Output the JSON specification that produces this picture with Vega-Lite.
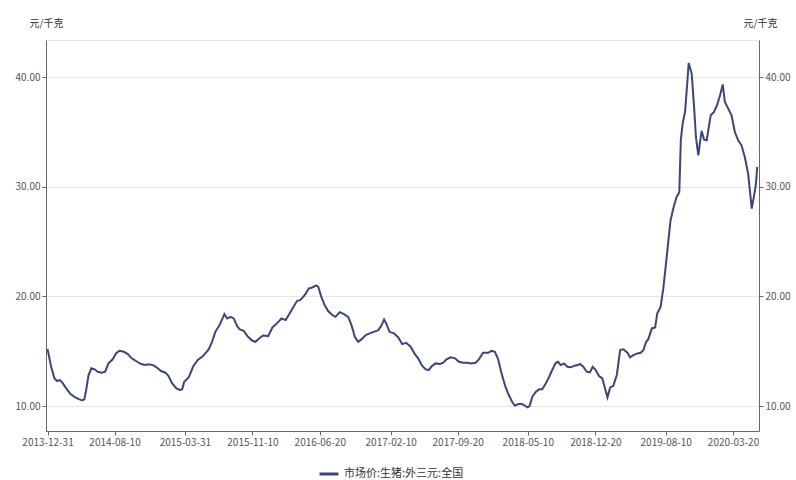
{
  "$schema": "https://vega.github.io/schema/vega-lite/v6.json",
  "width": 713,
  "height": 391,
  "autosize": {"type": "none"},
  "padding": {"left": 46, "top": 40, "right": 37, "bottom": 49},
  "background": "#ffffff",
  "config": {
    "font": "Noto Sans CJK SC",
    "view": {"stroke": "#e6e6e6", "strokeWidth": 1},
    "axis": {
      "labelFont": "Noto Sans CJK SC",
      "labelFontSize": 10,
      "labelColor": "#555555",
      "domainColor": "#666666",
      "tickColor": "#666666",
      "tickSize": 4,
      "labelPadding": 2,
      "gridColor": "#e6e6e6",
      "titleFont": "Noto Sans CJK SC",
      "titleFontSize": 10,
      "titleFontWeight": "normal",
      "titleColor": "#333333"
    },
    "legend": {
      "labelFont": "Noto Sans CJK SC",
      "labelFontSize": 11,
      "labelColor": "#333333"
    }
  },
  "data": {
    "values": [
      {"d": "2013-12-31", "v": 15.2},
      {"d": "2014-01-12", "v": 13.58},
      {"d": "2014-01-23", "v": 12.52},
      {"d": "2014-02-01", "v": 12.28},
      {"d": "2014-02-10", "v": 12.37},
      {"d": "2014-02-20", "v": 12.07},
      {"d": "2014-03-03", "v": 11.61},
      {"d": "2014-03-17", "v": 11.09},
      {"d": "2014-04-02", "v": 10.79},
      {"d": "2014-04-16", "v": 10.61},
      {"d": "2014-04-25", "v": 10.52},
      {"d": "2014-05-02", "v": 10.61},
      {"d": "2014-05-08", "v": 11.46},
      {"d": "2014-05-16", "v": 12.83},
      {"d": "2014-05-25", "v": 13.44},
      {"d": "2014-06-05", "v": 13.35},
      {"d": "2014-06-15", "v": 13.13},
      {"d": "2014-06-29", "v": 13.04},
      {"d": "2014-07-10", "v": 13.13},
      {"d": "2014-07-21", "v": 13.89},
      {"d": "2014-08-04", "v": 14.26},
      {"d": "2014-08-15", "v": 14.8},
      {"d": "2014-08-26", "v": 15.04},
      {"d": "2014-09-10", "v": 14.95},
      {"d": "2014-09-23", "v": 14.74},
      {"d": "2014-10-06", "v": 14.35},
      {"d": "2014-10-24", "v": 14.04},
      {"d": "2014-11-06", "v": 13.83},
      {"d": "2014-11-20", "v": 13.74},
      {"d": "2014-12-01", "v": 13.8},
      {"d": "2014-12-18", "v": 13.71},
      {"d": "2014-12-31", "v": 13.44},
      {"d": "2015-01-11", "v": 13.19},
      {"d": "2015-01-26", "v": 13.04},
      {"d": "2015-02-05", "v": 12.73},
      {"d": "2015-02-17", "v": 12.07},
      {"d": "2015-03-03", "v": 11.61},
      {"d": "2015-03-14", "v": 11.46},
      {"d": "2015-03-22", "v": 11.52},
      {"d": "2015-03-29", "v": 12.22},
      {"d": "2015-04-13", "v": 12.62},
      {"d": "2015-04-27", "v": 13.58},
      {"d": "2015-05-12", "v": 14.19},
      {"d": "2015-05-30", "v": 14.56},
      {"d": "2015-06-18", "v": 15.17},
      {"d": "2015-06-29", "v": 15.86},
      {"d": "2015-07-10", "v": 16.77},
      {"d": "2015-07-24", "v": 17.38},
      {"d": "2015-08-09", "v": 18.39},
      {"d": "2015-08-18", "v": 17.99},
      {"d": "2015-08-29", "v": 18.14},
      {"d": "2015-09-09", "v": 17.99},
      {"d": "2015-09-20", "v": 17.3},
      {"d": "2015-09-29", "v": 16.99},
      {"d": "2015-10-12", "v": 16.86},
      {"d": "2015-10-26", "v": 16.32},
      {"d": "2015-11-10", "v": 15.95},
      {"d": "2015-11-20", "v": 15.86},
      {"d": "2015-12-02", "v": 16.17},
      {"d": "2015-12-15", "v": 16.44},
      {"d": "2016-01-01", "v": 16.38},
      {"d": "2016-01-15", "v": 17.17},
      {"d": "2016-01-30", "v": 17.54},
      {"d": "2016-02-14", "v": 17.99},
      {"d": "2016-02-28", "v": 17.84},
      {"d": "2016-03-12", "v": 18.45},
      {"d": "2016-03-25", "v": 19.05},
      {"d": "2016-04-06", "v": 19.6},
      {"d": "2016-04-16", "v": 19.66},
      {"d": "2016-05-01", "v": 20.12},
      {"d": "2016-05-15", "v": 20.73},
      {"d": "2016-05-26", "v": 20.82},
      {"d": "2016-06-08", "v": 21.0},
      {"d": "2016-06-15", "v": 20.88},
      {"d": "2016-06-25", "v": 19.96},
      {"d": "2016-07-06", "v": 19.21},
      {"d": "2016-07-17", "v": 18.69},
      {"d": "2016-07-31", "v": 18.3},
      {"d": "2016-08-11", "v": 18.14},
      {"d": "2016-08-25", "v": 18.57},
      {"d": "2016-09-08", "v": 18.39},
      {"d": "2016-09-22", "v": 18.14},
      {"d": "2016-10-03", "v": 17.38},
      {"d": "2016-10-14", "v": 16.32},
      {"d": "2016-10-25", "v": 15.86},
      {"d": "2016-11-05", "v": 16.08},
      {"d": "2016-11-19", "v": 16.47},
      {"d": "2016-12-02", "v": 16.63},
      {"d": "2016-12-16", "v": 16.77},
      {"d": "2016-12-31", "v": 16.93},
      {"d": "2017-01-11", "v": 17.38},
      {"d": "2017-01-19", "v": 17.9},
      {"d": "2017-01-26", "v": 17.54},
      {"d": "2017-02-06", "v": 16.77},
      {"d": "2017-02-21", "v": 16.63},
      {"d": "2017-03-07", "v": 16.26},
      {"d": "2017-03-20", "v": 15.65},
      {"d": "2017-04-02", "v": 15.77},
      {"d": "2017-04-17", "v": 15.41},
      {"d": "2017-05-01", "v": 14.74},
      {"d": "2017-05-12", "v": 14.35},
      {"d": "2017-05-23", "v": 13.74},
      {"d": "2017-06-05", "v": 13.37},
      {"d": "2017-06-16", "v": 13.28},
      {"d": "2017-06-25", "v": 13.6},
      {"d": "2017-07-08", "v": 13.89},
      {"d": "2017-07-23", "v": 13.83},
      {"d": "2017-08-03", "v": 13.95},
      {"d": "2017-08-14", "v": 14.26},
      {"d": "2017-08-28", "v": 14.44},
      {"d": "2017-09-11", "v": 14.35},
      {"d": "2017-09-24", "v": 14.04},
      {"d": "2017-10-08", "v": 13.95},
      {"d": "2017-10-22", "v": 13.95},
      {"d": "2017-11-04", "v": 13.89},
      {"d": "2017-11-18", "v": 13.95},
      {"d": "2017-11-29", "v": 14.26},
      {"d": "2017-12-13", "v": 14.86},
      {"d": "2017-12-30", "v": 14.86},
      {"d": "2018-01-10", "v": 15.04},
      {"d": "2018-01-21", "v": 14.95},
      {"d": "2018-02-01", "v": 14.26},
      {"d": "2018-02-12", "v": 12.98},
      {"d": "2018-02-25", "v": 11.76},
      {"d": "2018-03-08", "v": 11.0},
      {"d": "2018-03-19", "v": 10.39},
      {"d": "2018-03-28", "v": 10.05},
      {"d": "2018-04-10", "v": 10.18},
      {"d": "2018-04-21", "v": 10.18},
      {"d": "2018-05-02", "v": 10.0},
      {"d": "2018-05-09", "v": 9.88},
      {"d": "2018-05-16", "v": 10.0},
      {"d": "2018-05-25", "v": 10.85},
      {"d": "2018-06-06", "v": 11.31},
      {"d": "2018-06-17", "v": 11.52},
      {"d": "2018-06-27", "v": 11.52},
      {"d": "2018-07-09", "v": 12.07},
      {"d": "2018-07-20", "v": 12.67},
      {"d": "2018-07-31", "v": 13.35},
      {"d": "2018-08-11", "v": 13.95},
      {"d": "2018-08-18", "v": 14.04},
      {"d": "2018-08-27", "v": 13.74},
      {"d": "2018-09-07", "v": 13.89},
      {"d": "2018-09-18", "v": 13.58},
      {"d": "2018-09-30", "v": 13.53},
      {"d": "2018-10-11", "v": 13.68},
      {"d": "2018-10-21", "v": 13.71},
      {"d": "2018-10-30", "v": 13.83},
      {"d": "2018-11-10", "v": 13.58},
      {"d": "2018-11-21", "v": 13.13},
      {"d": "2018-12-02", "v": 13.07},
      {"d": "2018-12-11", "v": 13.58},
      {"d": "2018-12-21", "v": 13.28},
      {"d": "2019-01-01", "v": 12.73},
      {"d": "2019-01-12", "v": 12.52},
      {"d": "2019-01-20", "v": 11.7},
      {"d": "2019-01-29", "v": 10.79},
      {"d": "2019-02-07", "v": 11.7},
      {"d": "2019-02-17", "v": 11.82},
      {"d": "2019-03-01", "v": 12.83},
      {"d": "2019-03-12", "v": 15.1},
      {"d": "2019-03-23", "v": 15.17},
      {"d": "2019-04-05", "v": 14.86},
      {"d": "2019-04-14", "v": 14.44},
      {"d": "2019-04-25", "v": 14.65},
      {"d": "2019-05-08", "v": 14.8},
      {"d": "2019-05-19", "v": 14.86},
      {"d": "2019-05-28", "v": 15.1},
      {"d": "2019-06-06", "v": 15.86},
      {"d": "2019-06-13", "v": 16.08},
      {"d": "2019-06-25", "v": 17.08},
      {"d": "2019-07-06", "v": 17.17},
      {"d": "2019-07-13", "v": 18.45},
      {"d": "2019-07-24", "v": 19.05},
      {"d": "2019-08-02", "v": 20.73},
      {"d": "2019-08-11", "v": 23.01},
      {"d": "2019-08-19", "v": 25.13},
      {"d": "2019-08-26", "v": 26.96},
      {"d": "2019-09-06", "v": 28.23},
      {"d": "2019-09-15", "v": 29.08},
      {"d": "2019-09-24", "v": 29.51},
      {"d": "2019-09-29", "v": 34.25},
      {"d": "2019-10-05", "v": 35.77},
      {"d": "2019-10-13", "v": 36.83},
      {"d": "2019-10-21", "v": 39.72},
      {"d": "2019-10-25", "v": 41.3},
      {"d": "2019-11-04", "v": 40.33},
      {"d": "2019-11-12", "v": 37.28},
      {"d": "2019-11-18", "v": 34.55},
      {"d": "2019-11-26", "v": 32.88},
      {"d": "2019-12-01", "v": 33.95},
      {"d": "2019-12-07", "v": 35.1},
      {"d": "2019-12-15", "v": 34.31},
      {"d": "2019-12-24", "v": 34.25},
      {"d": "2019-12-29", "v": 35.16},
      {"d": "2020-01-06", "v": 36.53},
      {"d": "2020-01-17", "v": 36.83},
      {"d": "2020-01-28", "v": 37.53},
      {"d": "2020-02-06", "v": 38.35},
      {"d": "2020-02-15", "v": 39.35},
      {"d": "2020-02-22", "v": 37.74},
      {"d": "2020-03-04", "v": 37.14},
      {"d": "2020-03-15", "v": 36.53},
      {"d": "2020-03-26", "v": 35.0},
      {"d": "2020-04-06", "v": 34.25},
      {"d": "2020-04-17", "v": 33.79},
      {"d": "2020-04-28", "v": 32.72},
      {"d": "2020-05-09", "v": 31.21},
      {"d": "2020-05-21", "v": 28.02},
      {"d": "2020-05-28", "v": 29.08},
      {"d": "2020-06-04", "v": 30.3},
      {"d": "2020-06-08", "v": 31.82}
    ]
  },
  "encoding": {
    "x": {
      "field": "d",
      "type": "temporal",
      "scale": {
        "type": "utc",
        "domain": [
          {"year": 2013, "month": 12, "date": 26, "utc": true},
          {"year": 2020, "month": 6, "date": 14, "utc": true}
        ]
      },
      "axis": {
        "title": null,
        "grid": false,
        "format": "%Y-%m-%d",
        "labelFlush": false,
        "labelOverlap": false,
        "values": [
          {"year": 2013, "month": 12, "date": 31, "utc": true},
          {"year": 2014, "month": 8, "date": 10, "utc": true},
          {"year": 2015, "month": 3, "date": 31, "utc": true},
          {"year": 2015, "month": 11, "date": 10, "utc": true},
          {"year": 2016, "month": 6, "date": 20, "utc": true},
          {"year": 2017, "month": 2, "date": 10, "utc": true},
          {"year": 2017, "month": 9, "date": 20, "utc": true},
          {"year": 2018, "month": 5, "date": 10, "utc": true},
          {"year": 2018, "month": 12, "date": 20, "utc": true},
          {"year": 2019, "month": 8, "date": 10, "utc": true},
          {"year": 2020, "month": 3, "date": 20, "utc": true}
        ]
      }
    }
  },
  "layer": [
    {
      "mark": {"type": "line", "strokeWidth": 2, "interpolate": "linear"},
      "encoding": {
        "y": {
          "field": "v",
          "type": "quantitative",
          "scale": {"domain": [7.72, 43.4], "nice": false, "zero": false},
          "axis": {
            "orient": "left",
            "values": [10, 20, 30, 40],
            "format": ".2f",
            "grid": true,
            "title": "元/千克",
            "titleAngle": 0,
            "titleX": 0,
            "titleY": -17,
            "titleAlign": "center",
            "titleBaseline": "middle"
          }
        },
        "color": {
          "datum": "市场价:生猪:外三元:全国",
          "type": "nominal",
          "scale": {"range": ["#3c4677"]},
          "legend": {
            "title": null,
            "orient": "none",
            "legendX": 272,
            "legendY": 423,
            "symbolType": "stroke",
            "symbolSize": 360,
            "symbolStrokeWidth": 3,
            "labelOffset": 4
          }
        }
      }
    },
    {
      "mark": {"type": "line", "strokeWidth": 2, "strokeOpacity": 0},
      "encoding": {
        "y": {
          "field": "v",
          "type": "quantitative",
          "axis": {
            "orient": "right",
            "values": [10, 20, 30, 40],
            "format": ".2f",
            "grid": false,
            "title": "元/千克",
            "titleAngle": 0,
            "titleX": 1,
            "titleY": -17,
            "titleAlign": "center",
            "titleBaseline": "middle"
          }
        }
      }
    }
  ],
  "resolve": {"axis": {"y": "independent"}}
}
